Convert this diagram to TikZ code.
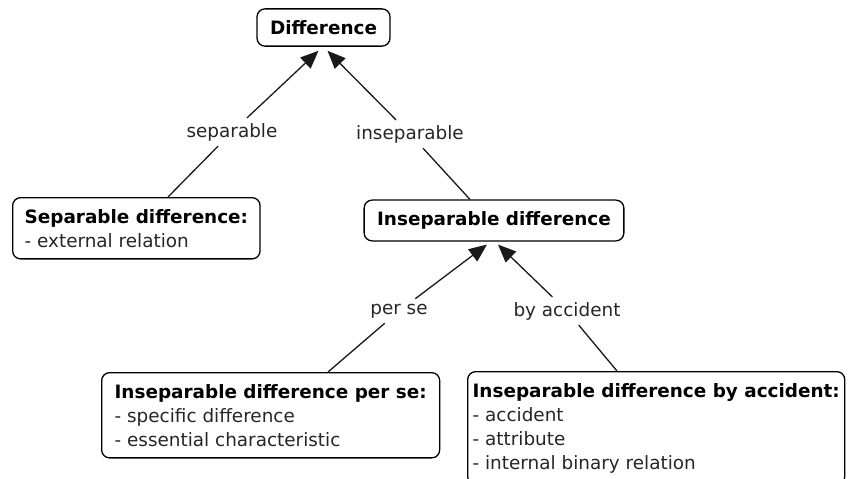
\documentclass[tikz,border=0pt]{standalone}
\usepackage{fontspec}
\setmainfont{DejaVu Sans}
\usetikzlibrary{positioning,arrows.meta}

\tikzset{
  concept/.style={draw, line width=1.3pt, rounded corners=8pt, align=left,
    inner xsep=13pt, inner ysep=11.5pt, text=black!85,
    font=\fontsize{18.4}{24}\selectfont},
  linkword/.style={inner sep=5pt, text=black!85, font=\fontsize{18.4}{24}\selectfont},
  link/.style={line width=1.3pt, black!90},
  linkarrow/.style={link, -{Triangle[length=18pt,width=15pt]}}
}

\begin{document}
\begin{tikzpicture}[x=1pt,y=-1pt]
    \useasboundingbox (0,0) rectangle (849,479);
    \clip (0,0) rectangle (849,479);

    % Concepts
    \node[concept, text=black, font=\bfseries\fontsize{18.4}{24}\selectfont] (diff) at (323.5,27.5) {Difference};
    \node[concept, anchor=north west, inner xsep=12pt] (sepbox) at (12,197)
      {{\color{black}\bfseries Separable difference:}\\- external relation};
    \node[concept, text=black, font=\bfseries\fontsize{18.4}{24}\selectfont] (insbox) at (494,220.5) {Inseparable difference};
    \node[concept, anchor=north west] (persebox) at (101,372)
      {{\color{black}\bfseries Inseparable difference per se:}\\- specific difference\\- essential characteristic};
    \node[concept, anchor=north west, inner xsep=5pt] (accbox) at (467,371)
      {{\color{black}\bfseries Inseparable difference by accident:}\\- accident\\- attribute\\- internal binary relation};

    % Linking words
    \node[linkword] (seplbl) at (232,132) {separable};
    \node[linkword] (inslbl) at (410,134) {inseparable};
    \node[linkword] (perlbl) at (399,311) {per se};
    \node[linkword] (acclbl) at (567,311) {by accident};

    % Ends of the links
    \coordinate (sepfoot) at ([xshift=156pt]sepbox.north west);
    \coordinate (insfoot) at ([xshift=-24pt]insbox.north);
    \coordinate (perfoot) at ([xshift=227pt]persebox.north west);
    \coordinate (accfoot) at ([xshift=150pt]accbox.north west);
    \coordinate (septip) at ([xshift=-5pt,yshift=-4pt]diff.south);
    \coordinate (instip) at ([xshift=4pt,yshift=-4pt]diff.south);
    \coordinate (pertip) at ([xshift=-7pt,yshift=-3pt]insbox.south);
    \coordinate (acctip) at ([xshift=4pt,yshift=-3pt]insbox.south);

    % Draw links through their words
    \foreach \foot/\word/\tip in {sepfoot/seplbl/septip, insfoot/inslbl/instip, perfoot/perlbl/pertip, accfoot/acclbl/acctip} {
      \draw[link] (\foot) -- (\word);
      \draw[linkarrow] (\word) -- (\tip);
    }
\end{tikzpicture}
\end{document}
